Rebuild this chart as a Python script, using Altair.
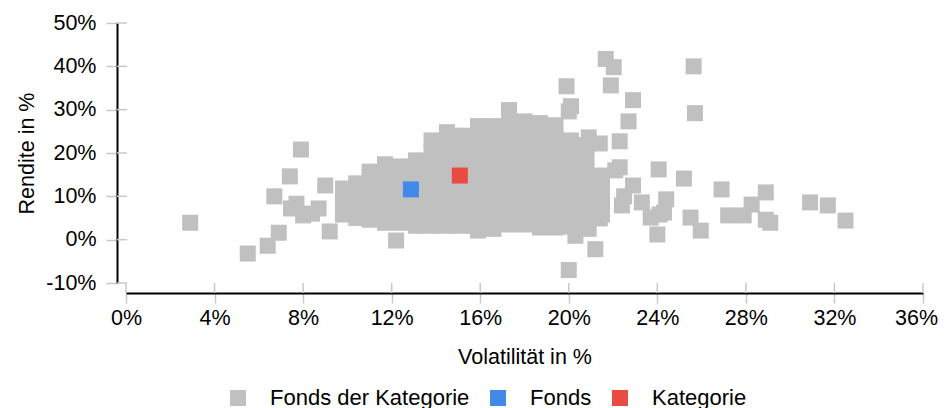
import altair as alt
import pandas as pd

# ---- data (percent units) ----
# peer funds of the category: volatility (x) and return (y)
peer_vol = [
    # left outliers
    2.9, 5.5, 6.4, 6.9, 6.7, 7.4, 7.9, 9.2, 9.0, 7.45, 7.7, 8.0, 8.4, 8.7, 12.2,
    # dense cloud
    9.8, 9.8, 9.8, 9.8,
    10.4, 10.4, 10.4, 10.4,
    11.0, 11.0, 11.0, 11.0, 11.0,
    11.7, 11.7, 11.7, 11.7, 11.7, 11.7,
    12.4, 12.4, 12.4, 12.4, 12.4, 12.4,
    13.1, 13.1, 13.1, 13.1, 13.1, 13.1,
    13.8, 13.8, 13.8, 13.8, 13.8, 13.8, 13.8, 13.8,
    14.5, 14.5, 14.5, 14.5, 14.5, 14.5, 14.5, 14.5,
    15.2, 15.2, 15.2, 15.2, 15.2, 15.2, 15.2, 15.2,
    15.9, 15.9, 15.9, 15.9, 15.9, 15.9, 15.9, 15.9, 15.9,
    16.6, 16.6, 16.6, 16.6, 16.6, 16.6, 16.6, 16.6, 16.6,
    17.3, 17.3, 17.3, 17.3, 17.3, 17.3, 17.3, 17.3, 17.3, 17.3,
    18.0, 18.0, 18.0, 18.0, 18.0, 18.0, 18.0, 18.0, 18.0,
    18.7, 18.7, 18.7, 18.7, 18.7, 18.7, 18.7, 18.7, 18.7,
    19.4, 19.4, 19.4, 19.4, 19.4, 19.4, 19.4, 19.4, 19.4,
    20.1, 20.1, 20.1, 20.1, 20.1, 20.1, 20.1, 20.1,
    20.8, 20.8, 20.8, 20.8, 20.8, 20.8, 20.8,
    21.5, 21.5, 21.5, 21.5,
    # right side
    21.67, 22.03, 25.64, 19.9, 21.9, 22.9, 20.0, 20.1, 25.7, 22.7,
    22.3, 20.9, 21.4, 24.06, 25.2, 22.1, 22.3, 22.9, 22.5, 22.4,
    23.3, 24.4, 23.7, 24.1, 24.3, 24.0, 26.9, 28.9, 28.26, 30.9,
    31.7, 32.5, 27.2, 27.9, 28.9, 29.1, 25.5, 25.96, 20.0, 21.2,
    20.3, 20.9, 21.4,
]
peer_ret = [
    3.9, -3.2, -1.4, 1.6, 10.0, 14.6, 20.8, 1.9, 12.5, 7.2, 8.3, 5.6, 6.0, 7.2, -0.2,
    11.8, 9.0, 7.3, 5.8,
    13.0, 10.0, 7.0, 5.0,
    15.7, 12.5, 9.5, 6.5, 4.6,
    17.4, 14.5, 11.5, 8.5, 5.5, 3.9,
    16.9, 14.0, 11.0, 8.0, 5.0, 3.9,
    18.3, 15.5, 12.5, 9.5, 6.5, 3.2,
    22.9, 20.0, 17.0, 14.0, 11.0, 8.0, 5.0, 3.2,
    24.8, 21.5, 18.5, 15.5, 12.5, 9.5, 6.5, 3.2,
    24.0, 21.0, 18.0, 15.0, 12.0, 9.0, 6.0, 3.2,
    26.2, 23.0, 20.0, 17.0, 14.0, 11.0, 8.0, 5.0, 2.1,
    26.2, 23.0, 20.0, 17.0, 14.0, 11.0, 8.0, 5.0, 2.5,
    29.9, 27.0, 24.0, 21.0, 18.0, 15.0, 12.0, 9.0, 6.0, 3.5,
    27.3, 24.0, 21.0, 18.0, 15.0, 12.0, 9.0, 6.0, 3.5,
    26.9, 24.0, 21.0, 18.0, 15.0, 12.0, 9.0, 6.0, 2.8,
    26.4, 23.5, 20.5, 17.5, 14.5, 11.5, 8.5, 5.5, 2.8,
    22.9, 20.0, 17.0, 14.0, 11.0, 8.0, 5.0, 3.0,
    21.8, 19.0, 16.0, 13.0, 10.0, 7.0, 4.0,
    14.8, 11.8, 8.8, 5.8,
    41.7, 39.8, 40.0, 35.4, 35.6, 32.2, 29.6, 30.8, 29.2, 27.3,
    22.7, 23.6, 22.2, 16.2, 14.1, 16.0, 16.7, 12.5, 10.0, 7.9,
    8.6, 9.3, 5.1, 5.8, 6.25, 1.2, 11.6, 10.9, 8.1, 8.6,
    7.9, 4.4, 5.6, 5.6, 4.6, 3.9, 5.1, 2.1, -7.0, -2.2,
    0.9, 2.5, 4.9,
]
fund_vol = [12.87]
fund_ret = [11.6]
cat_vol = [15.08]
cat_ret = [14.8]

series_names = ["Fonds der Kategorie", "Fonds", "Kategorie"]
series_colors = ["#c0c0c0", "#428ae9", "#ea4a41"]
x_ticks = [0, 4, 8, 12, 16, 20, 24, 28, 32, 36]
y_ticks = [-10, 0, 10, 20, 30, 40, 50]

rows = []
for v, r in zip(peer_vol, peer_ret):
    rows.append({"vol": v, "ret": r, "series": series_names[0]})
for v, r in zip(fund_vol, fund_ret):
    rows.append({"vol": v, "ret": r, "series": series_names[1]})
for v, r in zip(cat_vol, cat_ret):
    rows.append({"vol": v, "ret": r, "series": series_names[2]})
df = pd.DataFrame(rows)
df["idx"] = range(len(df))

W, H = 797, 260
FONT = "Liberation Sans"
FS = 21.5
TICK_COLOR = "#c8c8c8"

x_scale = alt.Scale(domain=[0, 36], nice=False, zero=False)
y_scale = alt.Scale(domain=[-10, 50], nice=False, zero=False)

x_axis = alt.Axis(values=x_ticks, labelExpr="datum.value + '%'", title="Volatilität in %",
                  offset=10, tickSize=10, labelPadding=4, titlePadding=18, grid=False,
                  labelFlush=False,
                  labelOffset={"condition": {"test": "datum.value == 36", "value": -7},
                               "value": 0})
y_axis = alt.Axis(values=y_ticks, labelExpr="datum.value + '%'", title="Rendite in %",
                  offset=9, tickSize=11, labelPadding=10, titlePadding=7, grid=False,
                  labelFlush=False)

points = alt.Chart(df).mark_square(size=256, opacity=1, strokeWidth=0).encode(
    x=alt.X("vol:Q", scale=x_scale, axis=x_axis, title="Volatilität in %"),
    y=alt.Y("ret:Q", scale=y_scale, axis=y_axis, title="Rendite in %"),
    color=alt.Color("series:N", scale=alt.Scale(domain=series_names, range=series_colors),
                    legend=alt.Legend(orient="none", legendX=101, legendY=364,
                                      direction="horizontal", title=None,
                                      symbolType="square", symbolSize=256,
                                      symbolStrokeWidth=0, symbolOpacity=1,
                                      labelFontSize=22, labelFont=FONT, labelColor="black",
                                      labelLimit=0, labelOffset=21, columnPadding=17,
                                      padding=0)),
    order=alt.Order("idx:Q"),
)

x_inner = alt.Chart(pd.DataFrame({"vol": x_ticks})).mark_rule(
    color=TICK_COLOR, strokeWidth=1.5).encode(
    x=alt.X("vol:Q", scale=x_scale, axis=x_axis, title="Volatilität in %"),
    y=alt.value(H), y2=alt.value(H + 10))

y_inner = alt.Chart(pd.DataFrame({"ret": y_ticks})).mark_rule(
    color=TICK_COLOR, strokeWidth=1.5).encode(
    y=alt.Y("ret:Q", scale=y_scale, axis=y_axis, title="Rendite in %"),
    x=alt.value(-9), x2=alt.value(1))

chart = alt.layer(points, x_inner, y_inner).properties(
    width=W, height=H,
    autosize=alt.AutoSizeParams(type="none"),
    padding={"left": 118, "top": 15, "right": 15, "bottom": 125},
).configure_view(stroke=None).configure_axis(
    domainColor="black", domainWidth=2, tickColor=TICK_COLOR, tickWidth=1.5,
    labelFont=FONT, labelFontSize=FS, labelColor="black",
    titleFont=FONT, titleFontSize=FS, titleFontWeight="normal", titleColor="black",
)

chart.save("out.html", embed_options={"renderer": "svg", "actions": False})
